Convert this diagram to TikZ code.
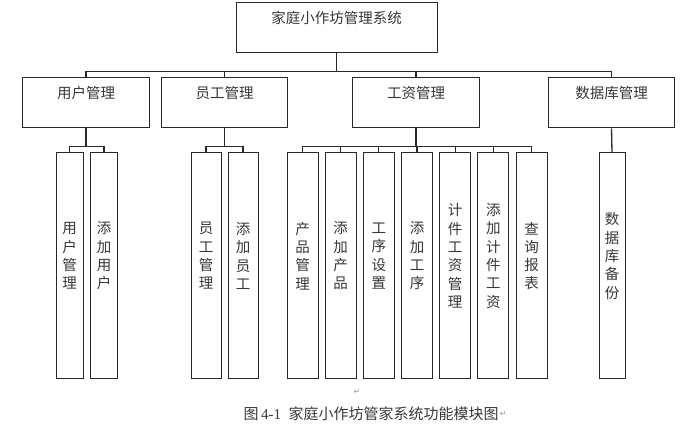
\documentclass[tikz,border=0pt]{standalone}
\usepackage{fontspec}
\setmainfont{Liberation Serif}
\newfontfamily\cjk{Noto Sans CJK SC}
\newfontfamily\symb{DejaVu Sans}
\usetikzlibrary{positioning, calc}
\definecolor{Cln}{RGB}{40,40,40}
\definecolor{Ctx}{RGB}{55,55,55}
\definecolor{Cmk}{RGB}{150,150,150}
\tikzset{
  Btop/.style={draw=Cln, line width=1pt, minimum width=201pt,
    minimum height=50pt, inner sep=0pt},
  Bmid/.style={draw=Cln, line width=1pt, minimum width=126.5pt,
    minimum height=50pt, inner sep=0pt},
  Bsub/.style={draw=Cln, line width=1pt, minimum width=#1,
    minimum height=225pt, inner sep=0pt},
  Bsub/.default=30pt,
  txt/.style={font=\cjk\fontsize{14.5}{18.3}\selectfont, text=Ctx,
    inner sep=0pt, align=center},
  hd/.style={label={[txt, yshift=10pt]center:#1}},
  vt/.style={label={[txt, yshift=9.5pt]center:#1}},
  a/.style={draw=Cln, line width=1.3pt},
  mk/.style={font=\symb\fontsize{8}{9}\selectfont, text=Cmk, inner sep=0pt}
}

\begin{document}
\begin{tikzpicture}[x=1pt, y=-1pt]
\useasboundingbox (0,0) rectangle (684,427);

% --- top ---
\node[Btop, hd={家庭小作坊管理系统}] (root) at (336.5, 28) {};

% --- second row ---
\node[Bmid, hd={用户管理}]   (user)  at ( 86.0, 103) {};
\node[Bmid, hd={员工管理}]   (staff) at (224.5, 103) {};
\node[Bmid, hd={工资管理}]   (wage)  at (416.0, 103) {};
\node[Bmid, hd={数据库管理}] (db)    at (611.5, 103) {};

% --- leaves: user / staff ---
\node[Bsub=27pt, vt={用\\户\\管\\理}] (u1) at ( 69.5, 265.5) {};
\node[Bsub=27pt, vt={添\\加\\用\\户}] (u2) at (104.0, 265.5) {};
\node[Bsub=30pt, vt={员\\工\\管\\理}] (s1) at (206.0, 265.5) {};
\node[Bsub=30pt, vt={添\\加\\员\\工}] (s2) at (243.0, 265.5) {};

% --- leaves: wage ---
\node[Bsub=31pt, vt={产\\品\\管\\理}]         (w1) at (302.5, 265.5) {};
\node[Bsub=31pt, vt={添\\加\\产\\品}]         (w2) at (340.7, 265.5) {};
\node[Bsub=31pt, vt={工\\序\\设\\置}]         (w3) at (378.8, 265.5) {};
\node[Bsub=31pt, vt={添\\加\\工\\序}]         (w4) at (417.0, 265.5) {};
\node[Bsub=31pt, vt={计\\件\\工\\资\\管\\理}] (w5) at (455.2, 265.5) {};
\node[Bsub=31pt, vt={添\\加\\计\\件\\工\\资}] (w6) at (493.3, 265.5) {};
\node[Bsub=31pt, vt={查\\询\\报\\表}]         (w7) at (531.5, 265.5) {};

% --- leaves: db ---
\node[Bsub=26pt, vt={数\\据\\库\\备\\份}] (d1) at (612.0, 265.5) {};

% --- connectors ---
\draw[a] (root.south) |- ([yshift=6pt]user.north)  -- (user.north);
\draw[a] (root.south) |- ([yshift=6pt]staff.north) -- (staff.north);
\draw[a] (root.south) |- ([yshift=6pt]wage.north)  -- (wage.north);
\draw[a] (root.south) |- ([yshift=6pt]db.north)    -- (db.north);

\draw[a] (user.south)  |- ([yshift=6pt]u1.north) -- (u1.north);
\draw[a] (user.south)  |- ([yshift=6pt]u2.north) -- (u2.north);
\draw[a] (staff.south) |- ([yshift=6pt]s1.north) -- (s1.north);
\draw[a] (staff.south) |- ([yshift=6pt]s2.north) -- (s2.north);
\foreach \i in {1,...,7}
  \draw[a] (wage.south) |- ([yshift=6pt]w\i.north) -- (w\i.north);
\draw[a] (db.south) -- (d1.north);

% --- caption ---
\node[font=\fontsize{15}{18}\selectfont, text=Ctx, inner sep=0pt] (cap)
  at (371, 414) {{\cjk 图}\,4-1\ \ {\cjk 家庭小作坊管家系统功能模块图}};
\node[mk, right=1pt of cap] (capmk) {↵};
\node[mk] (gapmk) at (357, 392) {↵};

\end{tikzpicture}
\end{document}
